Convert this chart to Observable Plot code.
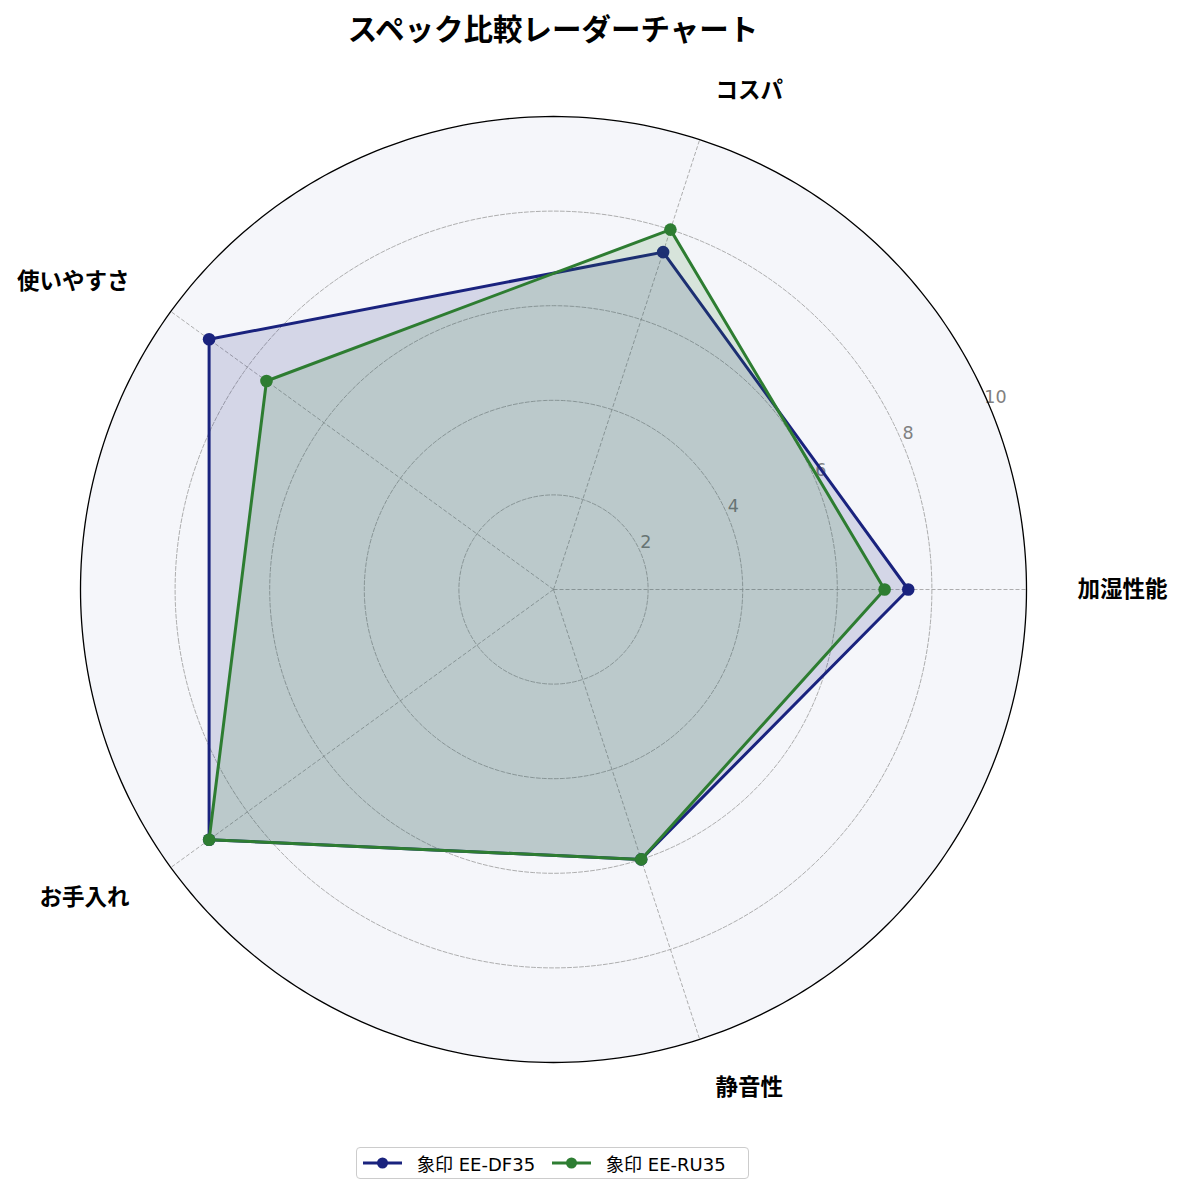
<!DOCTYPE html>
<html>
<head>
<meta charset="utf-8">
<script src="https://cdn.jsdelivr.net/npm/d3@7"></script>
<script src="https://cdn.jsdelivr.net/npm/@observablehq/plot@0.6"></script>
<style>
  body { margin: 0; background: #fff; font-family: "Noto Sans CJK JP", "Noto Sans", sans-serif; }
  #wrap { position: relative; width: 1183px; height: 1196px; overflow: hidden; }
  #title { position: absolute; left: 0; width: 1106px; top: 11px; text-align: center;
           font-size: 29.5px; line-height: 32px; font-weight: bold; color: #000; }
  #chart { position: absolute; left: 0; top: 0; }
  #legend { position: absolute; left: 356px; top: 1147px; width: 386px; height: 30px;
            border: 1.5px solid #cccccc; border-radius: 4px; background: #fff;
            display: flex; align-items: center; padding-left: 5px; box-sizing: content-box;
            font-family: "DejaVu Sans", "Noto Sans CJK JP", sans-serif; font-size: 18px; color: #000; }
  .item { display: flex; align-items: center; margin-right: 16px; white-space: nowrap; }
  .item svg { margin-right: 14px; }
</style>
</head>
<body>
<div id="wrap">
  <div id="chart"></div>
  <div id="title"></div>
  <div id="legend"></div>
</div>
<script>
// ---- data ----
const chartTitle = "スペック比較レーダーチャート";
const categories = ["加湿性能", "コスパ", "使いやすさ", "お手入れ", "静音性"];
const seriesNames = ["象印 EE-DF35", "象印 EE-RU35"];
const valuesDF35 = [7.5, 7.5, 9, 9, 6];
const valuesRU35 = [7, 8, 7.5, 9, 6];
const seriesColors = ["#1a237e", "#2e7d32"];
const radialTicks = [2, 4, 6, 8, 10];
const rMax = 10;

// ---- derived ----
const seriesValues = [valuesDF35, valuesRU35];
const n = categories.length;
const lon = i => 90 + 360 * i / n;        // angle (counter-clockwise from right) -> longitude
const lat = v => 90 - v;                   // radius -> latitude (distance from pole)
const rows = seriesNames.map((s, si) =>
  categories.map((c, i) => ({series: s, category: c, index: i, value: seriesValues[si][i]})));
const labelR = rMax + 1.08;
const cosOf = i => Math.cos(2 * Math.PI * i / n);
const catIdx = categories.map((c, i) => ({c, i}));
const circle = r => d3.geoCircle().center([0, 90]).radius(r).precision(1)();

const gridStyle = {stroke: "#9a9a9a", strokeWidth: 0.8, strokeDasharray: "4,2"};

const marks = [
  Plot.geo([circle(rMax)], {fill: "#f5f6fa", stroke: "none"}),
  Plot.geo(radialTicks.filter(t => t < rMax).map(circle), {fill: "none", ...gridStyle}),
  Plot.link(catIdx, {x1: d => lon(d.i), y1: 90, x2: d => lon(d.i), y2: lat(rMax), curve: "linear", ...gridStyle}),
  Plot.text(radialTicks, {x: () => 90 + 22.5, y: d => lat(d), text: d => String(d), dx: 5, dy: -11,
    fill: "#808080", fontSize: 17.5, fontFamily: '"DejaVu Sans", sans-serif', textAnchor: "middle"})
];
rows.forEach((data, si) => {
  marks.push(
    Plot.line(data, {x: d => lon(d.index), y: d => lat(d.value), curve: "linear-closed",
      stroke: seriesColors[si], strokeWidth: 3, fill: "none"}),
    Plot.dot(data, {x: d => lon(d.index), y: d => lat(d.value), r: 6.3, fill: seriesColors[si], stroke: "none"}),
    Plot.line(data, {x: d => lon(d.index), y: d => lat(d.value), curve: "linear-closed",
      stroke: "none", fill: seriesColors[si], fillOpacity: 0.15})
  );
});
marks.push(
  Plot.geo([circle(rMax)], {fill: "none", stroke: "#000", strokeWidth: 1.3}),
  Plot.text(catIdx.filter(d => cosOf(d.i) > 1e-6), {x: d => lon(d.i), y: () => lat(labelR), text: d => d.c,
    textAnchor: "start", fontSize: 22.5, fontWeight: "bold", fill: "#000"}),
  Plot.text(catIdx.filter(d => cosOf(d.i) < -1e-6), {x: d => lon(d.i), y: () => lat(labelR), text: d => d.c,
    textAnchor: "end", fontSize: 22.5, fontWeight: "bold", fill: "#000"})
);

const chart = Plot.plot({
  width: 1183,
  height: 1196,
  marginLeft: 80,
  marginRight: 157,
  marginTop: 116,
  marginBottom: 134,
  projection: {
    type: "azimuthal-equidistant",
    rotate: [0, -90],
    domain: circle(rMax),
    inset: 0,
    clip: false
  },
  style: {fontFamily: '"Noto Sans CJK JP", "Noto Sans", sans-serif', background: "transparent", overflow: "visible"},
  marks
});
document.getElementById("chart").appendChild(chart);

document.getElementById("title").textContent = chartTitle;

const legend = document.getElementById("legend");
seriesNames.forEach((s, si) => {
  const item = document.createElement("div");
  item.className = "item";
  item.innerHTML = `<svg width="41" height="14"><line x1="1" y1="7" x2="40" y2="7" stroke="${seriesColors[si]}" stroke-width="3"/><circle cx="20.5" cy="7" r="5.5" fill="${seriesColors[si]}"/></svg><span>${s}</span>`;
  legend.appendChild(item);
});
</script>
</body>
</html>
